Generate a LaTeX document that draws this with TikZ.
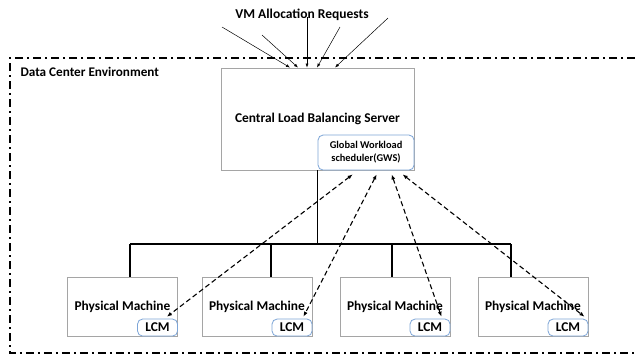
\documentclass[tikz,border=0pt]{standalone}
\usepackage{fontspec}
\setmainfont{Carlito}
\usetikzlibrary{arrows.meta,calc}
\definecolor{boxgray}{RGB}{165,165,165}
\definecolor{lcmblue}{RGB}{125,165,215}

\begin{document}
\begin{tikzpicture}[x=1pt,y=-1pt,
  box/.style={draw=boxgray, line width=0.9pt, fill=white, font=\bfseries\fontsize{13.4}{15}\selectfont},
  rbox/.style={draw=lcmblue, rounded corners=5pt, line width=0.8pt, fill=white, align=center, inner sep=1pt},
  bus/.style={line width=1.8pt},
  req/.style={-{Latex[length=4pt,width=3pt]}, line width=0.5pt},
  link/.style={{Latex[length=5pt,width=4pt]}-{Latex[length=5pt,width=4pt]}, line width=1.1pt, dash pattern=on 5pt off 3pt},
  border/.style={line width=1.8pt, dash pattern=on 8pt off 4pt on 2pt off 4pt}]
			%%%%% START %%%%%
			\useasboundingbox (0,0) rectangle (635,360);
			
			\draw[border] (635,58) -- (10,58) -- (10,353) -- (635,353);
			\node[anchor=west, font=\bfseries\fontsize{13.2}{15}\selectfont] (dce) at (17,72) {Data Center Environment};
			\node[font=\bfseries\fontsize{13.5}{15}\selectfont] (title) at (302,15) {VM Allocation Requests};
			
			\node[box, minimum width=193pt, minimum height=102pt] (server) at (317.5,119) {Central Load Balancing Server};
			\node[rbox, minimum width=96pt, minimum height=35pt, anchor=south east, font=\bfseries\fontsize{10.4}{13}\selectfont] (gws) at (server.south east) {Global Workload\\scheduler(GWS)};
			
			\foreach \i/\sx/\sy/\ex in {1/222/27/290, 2/262/35/298, 3/307/17/307, 4/340/27/317, 5/388/18/335}{
				\coordinate (req\i) at (\sx,\sy);
				\draw[req] (req\i) -- (\ex,0 |- server.north);
			}
			
			\foreach \i/\x/\d in {1/122.5/130, 2/257/271, 3/395/392, 4/533/511}{
				\node[box, minimum width=110pt, minimum height=59pt] (pm\i) at (\x,306.5) {Physical Machine};
				\node[rbox, minimum width=40pt, minimum height=17pt, anchor=south east, font=\bfseries\fontsize{13.4}{15}\selectfont] (lcm\i) at (pm\i.south east) {LCM};
				\coordinate (bus\i) at (\d,244);
				\draw[bus] (bus\i) -- (bus\i |- pm\i.north);
			}
			\draw[bus] (server.south) -- (server.south |- bus1);
			\draw[bus] (bus1) -- (bus4);
			
			\foreach \i/\sx/\o in {1/35/-11, 2/59/-9, 3/74/-9, 4/85/-4}
				\draw[link] ($(gws.south west)+(\sx,4)$) -- ($(lcm\i.north east)+(\o,-2)$);
			
			%%%%% END %%%%%
\end{tikzpicture}
\end{document}
